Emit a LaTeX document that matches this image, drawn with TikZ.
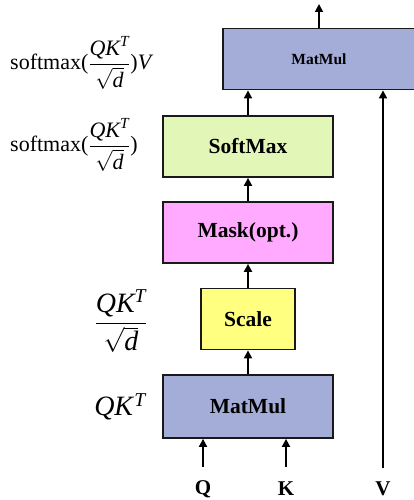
\documentclass[tikz,border=0pt]{standalone}
\usepackage{amsmath}
\usepackage{fontspec}
\setmainfont{Liberation Serif}
\usetikzlibrary{arrows.meta}

\definecolor{mmcol}{HTML}{A4ACD8}
\definecolor{smcol}{HTML}{E2F6B8}
\definecolor{mkcol}{HTML}{FFAAFF}
\definecolor{sccol}{HTML}{FFFF80}

\tikzset{
  box/.style={draw=black!90, line width=1.8pt, minimum width=170pt,
    minimum height=61pt, inner sep=0pt,
    font=\fontsize{21.5}{24}\selectfont\bfseries},
  arr/.style={-{Triangle[length=8pt,width=8pt]}, line width=1.8pt},
  lbl/.style={inner sep=0pt, font=\fontsize{22}{26}\selectfont},
  biglbl/.style={inner sep=0pt, font=\fontsize{28}{32}\selectfont},
  inp/.style={inner sep=0pt, font=\fontsize{21}{24}\selectfont\bfseries}
}

\begin{document}
\begin{tikzpicture}[x=1pt,y=1pt]
  \useasboundingbox (0,0) rectangle (414,-500);

  % blocks
  \node[box, fill=mmcol, minimum width=196pt,
    font=\fontsize{15.5}{18}\selectfont\bfseries] (matmultop) at (321,-59) {};
  \node[font=\fontsize{15.5}{18}\selectfont\bfseries] (mmtext) at (319,-59) {MatMul};
  \node[box, fill=smcol] (softmax) at (248,-146.5) {SoftMax};
  \node[box, fill=mkcol] (mask) at (248,-232.5) {Mask(opt.)};
  \node[box, fill=sccol, minimum width=94pt] (scale) at (248,-319) {Scale};
  \node[box, fill=mmcol, minimum height=63pt] (matmul) at (248,-406.5) {MatMul};

  % inputs
  \node[inp] (q) at (203,-489) {Q};
  \node[inp] (k) at (286,-489) {K};
  \node[inp] (v) at (383,-489) {V};
  \coordinate (Q) at (203,-467);
  \coordinate (K) at (286,-467);
  \coordinate (V) at (383,-468);
  \coordinate (out) at (319,-4);

  \draw[arr] (Q) -- (Q |- matmul.south);
  \draw[arr] (K) -- (K |- matmul.south);
  \draw[arr] (V) -- (V |- matmultop.south);
  \draw[arr] (matmul) -- (scale);
  \draw[arr] (scale) -- (mask);
  \draw[arr] (mask) -- (softmax);
  \draw[arr] (softmax.north) -- (softmax.north |- matmultop.south);
  \draw[arr] (out |- matmultop.north) -- (out);

  % formulas
  \node[lbl, anchor=west] (f1) at (10,-63)
    {softmax($\dfrac{\textit{QK}^{\textit{T}}}{\sqrt{\textit{d}}}$)\textit{V}};
  \node[lbl, anchor=west] (f2) at (10,-145)
    {softmax($\dfrac{\textit{QK}^{\textit{T}}}{\sqrt{\textit{d}}}$)};
  \node[biglbl] (f3) at (121,-321)
    {$\dfrac{\textit{QK}^{\textit{T}}}{\sqrt{\textit{d}}}$};
  \node[biglbl] (f4) at (120,-407) {\textit{QK}$^{\textit{T}}$};
\end{tikzpicture}
\end{document}
